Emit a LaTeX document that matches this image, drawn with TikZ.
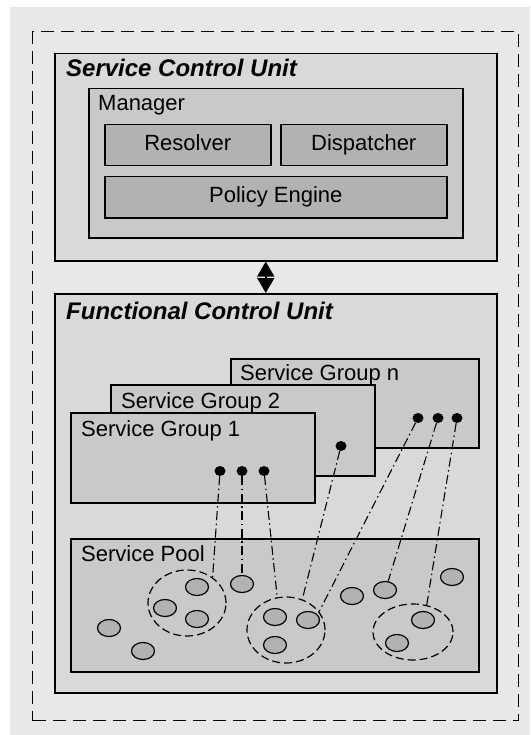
\documentclass[tikz,border=0pt]{standalone}
\usepackage{fontspec}
\setmainfont{Liberation Sans}
\usetikzlibrary{shapes.geometric,arrows.meta}

\begin{document}
\begin{tikzpicture}[x=1pt,y=-1pt,
    box/.style={draw,line width=1.5pt,anchor=north west,inner sep=0pt},
    lbl/.style={anchor=base west,inner sep=0pt,font=\fontsize{22}{26}\selectfont},
    unittitle/.style={anchor=base west,inner sep=0pt,font=\fontsize{24}{28}\selectfont\bfseries\itshape},
    part/.style={box,fill=gray!60,font=\fontsize{22}{26}\selectfont,text height=15pt,text depth=4pt},
    cell/.style={ellipse,draw,line width=1.2pt,fill=gray!60,minimum width=23pt,minimum height=17pt,inner sep=0pt},
    dot/.style={ellipse,fill=black,minimum width=11pt,minimum height=10pt,inner sep=0pt},
    group/.style={ellipse,draw,line width=1.2pt,dash pattern=on 8pt off 4pt,inner sep=0pt},
    link/.style={line width=1.1pt,dash pattern=on 9pt off 3.5pt on 1.5pt off 3.5pt}]
\useasboundingbox (0,0) rectangle (530,735);
\fill[gray!18] (10,7) rectangle (530,735);
\node[box,draw,line width=1.4pt,dash pattern=on 13pt off 7pt,minimum width=486pt,minimum height=689pt] (frame) at (32,31) {};

\node[box,fill=gray!30,minimum width=442pt,minimum height=207pt] (scu) at (54,53) {};
\node[unittitle] (scutitle) at (66,77) {Service Control Unit};
\node[box,fill=gray!42,minimum width=374pt,minimum height=149pt] (manager) at (88,88) {};
\node[lbl] (managertitle) at (98,111) {Manager};
\node[part,minimum width=166pt,minimum height=41pt] (resolver) at (104,124) {Resolver};
\node[part,minimum width=166pt,minimum height=41pt] (dispatcher) at (280,124) {Dispatcher};
\node[part,minimum width=342pt,minimum height=41pt] (policy) at (104,176) {Policy Engine};

\node[box,fill=gray!30,minimum width=442pt,minimum height=399pt] (fcu) at (54,293) {};
\node[unittitle] (fcutitle) at (66,319) {Functional Control Unit};
\draw[line width=1.5pt,{Triangle[width=17pt,length=15pt]}-{Triangle[width=17pt,length=15pt]}]
    ([xshift=-10pt]scu.south) -- ([xshift=-10pt]fcu.north);

\node[box,fill=gray!42,minimum width=248pt,minimum height=89pt] (sgn) at (230,358) {};
\node[lbl] (sgntitle) at (240,380) {Service Group n};
\node[dot] (dn1) at (418,418) {};
\node[dot] (dn2) at (438,418) {};
\node[dot] (dn3) at (457,418) {};
\node[box,fill=gray!42,minimum width=264pt,minimum height=91pt] (sg2) at (110,384) {};
\node[lbl] (sg2title) at (121,408) {Service Group 2};
\node[dot] (d21) at (341,446) {};
\node[box,fill=gray!42,minimum width=244pt,minimum height=90pt] (sg1) at (70,412) {};
\node[lbl] (sg1title) at (81,436) {Service Group 1};
\node[dot] (d11) at (220,471) {};
\node[dot] (d12) at (242,471) {};
\node[dot] (d13) at (264,471) {};

\node[box,fill=gray!42,minimum width=408pt,minimum height=133pt] (pool) at (70,538) {};
\node[lbl] (pooltitle) at (81,561) {Service Pool};
\foreach \n/\x/\y in {1/197/587, 2/165/608, 3/197/619, 4/242/584, 5/109/628, 6/143/651,
    7/275/617, 8/308/620, 9/275/645, 10/352/596, 11/385/590, 12/452/577, 13/423/620, 14/397/643}
    \node[cell] (c\n) at (\x,\y) {};
\node[group,minimum width=78pt,minimum height=66pt] (g1) at (187,603) {};
\node[group,minimum width=78pt,minimum height=66pt] (g2) at (286,630) {};
\node[group,minimum width=80pt,minimum height=56pt] (g3) at (413,632) {};

\draw[link] (d11) -- (g1.45);
\draw[link] (d12) -- (c4.north);
\draw[link] (d13) -- (g2.105);
\draw[link] (d21) -- (g2.62);
\draw[link] (dn1) -- (g2.29);
\draw[link] (dn2) -- (c11.70);
\draw[link] (dn3) -- (g3.63);
\end{tikzpicture}
\end{document}
